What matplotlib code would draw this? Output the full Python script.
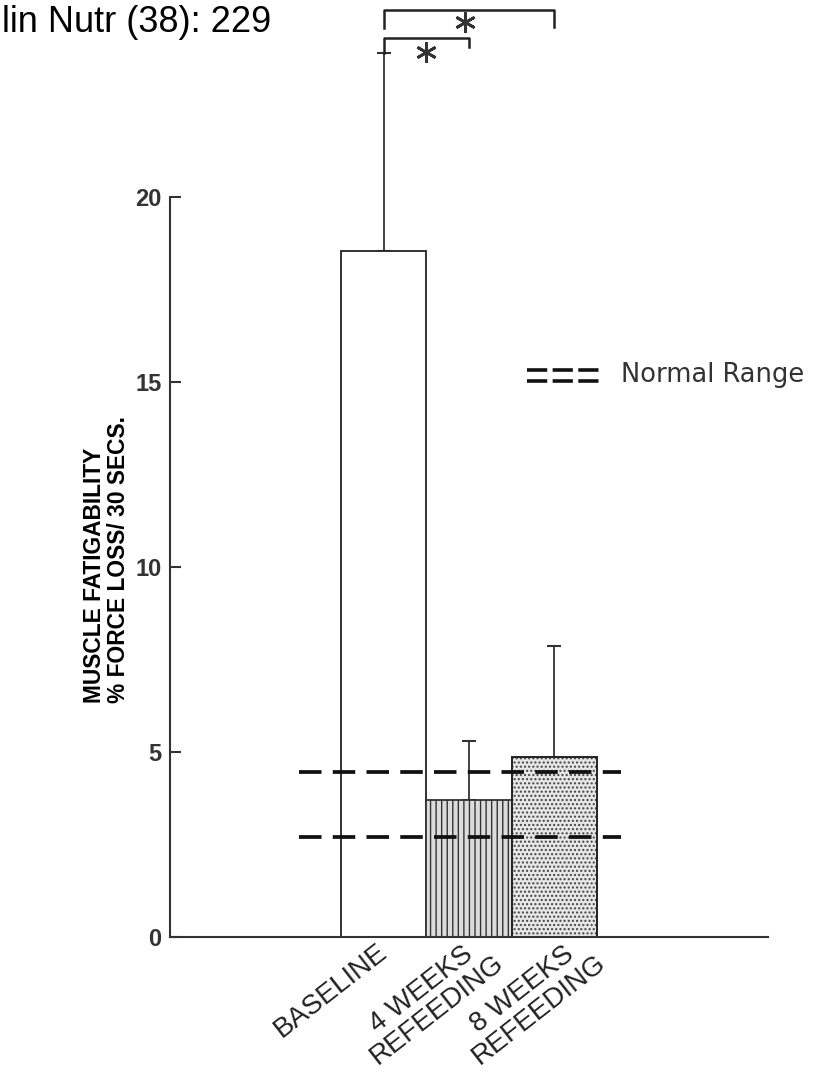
import matplotlib
matplotlib.use("Agg")
import matplotlib.pyplot as plt
from matplotlib.transforms import ScaledTranslation

plt.rcParams['font.family'] = ['Liberation Sans', 'DejaVu Sans']
plt.rcParams['hatch.linewidth'] = 1.0

# data
groups = ['BASELINE', '4 WEEKS\nREFEEDING', '8 WEEKS\nREFEEDING']
means = [18.55, 3.7, 4.87]
err_up = [5.34, 1.6, 2.98]
normal_low = 2.7
normal_high = 4.45
yticks = [0, 5, 10, 15, 20]

fig = plt.figure(figsize=(8.16, 10.78), dpi=100)
ax = fig.add_axes([0.2083, 0.1308, 0.7329, 0.8692])

pos = [0, 1, 2]
ax.bar(pos[0], means[0], width=1.0, color='white', edgecolor='#222222', linewidth=1.3, zorder=2)
ax.bar(pos[1], means[1], width=1.0, color='#dcdcdc', edgecolor='#333333', hatch='|||', linewidth=1.3, zorder=2)
ax.bar(pos[2], means[2], width=1.0, color='#e6e6e6', edgecolor='#444444', hatch='....', linewidth=1.3, zorder=2)
ax.bar(pos[2], means[2], width=1.0, color='none', edgecolor='#222222', linewidth=1.3, zorder=2)

ax.errorbar(pos, means, yerr=[[0, 0, 0], err_up], fmt='none', ecolor='#333333',
            elinewidth=1.3, capsize=5, capthick=1.5, zorder=1)

# normal range
for lvl in (normal_low, normal_high):
    ax.plot([-0.99, 2.78], [lvl, lvl], color='#111111', lw=2.7,
            linestyle=(0, (6.0, 3.0)), zorder=3)

# legend drawn by hand
for ly in (15.33, 15.03):
    ax.plot([1.68, 2.54], [ly, ly], color='#111111', lw=2.6, linestyle=(0, (5.6, 1.5)))
ax.text(2.78, 15.2, 'Normal Range', fontsize=18.5, family='DejaVu Sans',
        color='#333333', va='center', ha='left')

# significance brackets
ax.plot([0, 0, 1, 1], [23.9, 24.3, 24.3, 24.05], color='#222222', lw=1.8, clip_on=False)
ax.plot([0, 0, 2, 2], [24.55, 25.05, 25.05, 24.6], color='#222222', lw=1.8, clip_on=False)
ax.plot([0.5, 0.95], [23.92, 24.73], linestyle='none', marker=(6, 2, 0),
        markersize=15, markeredgewidth=2.0, color='#333333')

ax.set_xlim(-2.5, 4.5)
ax.set_ylim(0, 25.32)
ax.spines['top'].set_visible(False)
ax.spines['right'].set_visible(False)
ax.spines['left'].set_bounds(0, 20)
ax.spines['left'].set_linewidth(1.5)
ax.spines['bottom'].set_linewidth(1.5)
ax.spines['left'].set_color('#333333')
ax.spines['bottom'].set_color('#333333')

ax.set_yticks(yticks)
ax.set_yticklabels([str(t) for t in yticks], fontsize=17, fontweight='bold', color='#333333')
ax.tick_params(axis='y', direction='in', length=8, width=1.5, pad=6, colors='#333333')
ax.set_xticks(pos)
ax.set_xticklabels(groups, fontsize=20, rotation=38, ha='right', va='center',
                   rotation_mode='anchor', multialignment='center', linespacing=1.0,
                   color='#222222')
ax.tick_params(axis='x', length=0, pad=9)
for lbl, dx in zip(ax.get_xticklabels(), [1, 24, 40]):
    lbl.set_transform(lbl.get_transform() + ScaledTranslation(dx / 100, 0, fig.dpi_scale_trans))

fig.text(0.131, 0.348, 'MUSCLE FATIGABILITY\n% FORCE LOSS/ 30 SECS.', rotation=90,
         fontsize=16.4, fontweight='bold', ha='center', va='bottom',
         multialignment='left', linespacing=1.05)

fig.text(0.003, 0.995, 'lin Nutr (38): 229', fontsize=26, ha='left', va='top')

fig.savefig('out.png', dpi=100)
